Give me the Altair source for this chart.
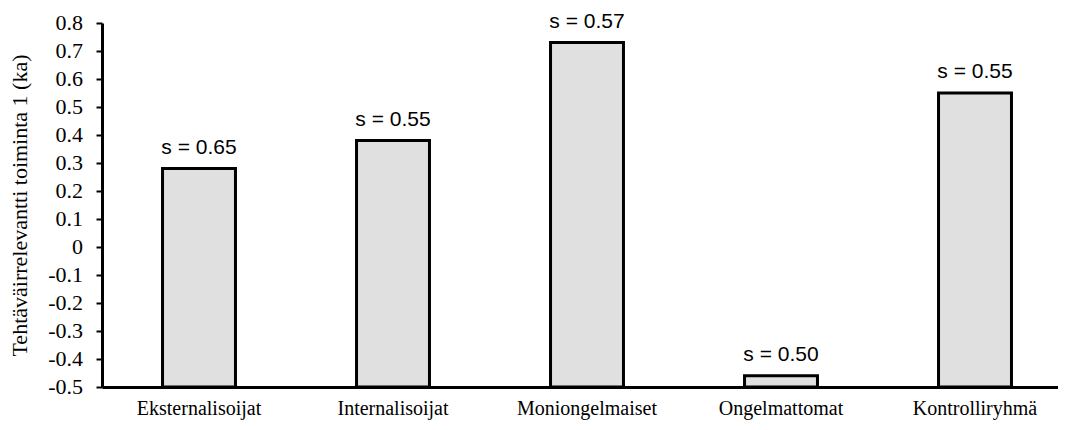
import altair as alt
import pandas as pd

categories = ["Eksternalisoijat", "Internalisoijat", "Moniongelmaiset", "Ongelmattomat", "Kontrolliryhmä"]
means = [0.28, 0.38, 0.73, -0.46, 0.55]
sd_labels = ["s = 0.65", "s = 0.55", "s = 0.57", "s = 0.50", "s = 0.55"]
y_ticks = [-0.5, -0.4, -0.3, -0.2, -0.1, 0.0, 0.1, 0.2, 0.3, 0.4, 0.5, 0.6, 0.7, 0.8]
y_tick_labels = ["-0.5", "-0.4", "-0.3", "-0.2", "-0.1", "0", "0.1", "0.2", "0.3", "0.4", "0.5", "0.6", "0.7", "0.8"]
base_value = -0.5

df = pd.DataFrame({"cat": categories, "mean": means, "sd": sd_labels, "base": [base_value] * len(categories)})
ticks_df = pd.DataFrame({"v": y_ticks, "lab": y_tick_labels})

x_scale = alt.Scale(range=[0, 970], paddingInner=0.624, paddingOuter=0.312)
y_scale = alt.Scale(domain=[-0.5, 0.8], nice=False, zero=False)

x_axis = alt.Axis(labelAngle=0, labelFont="Liberation Serif", labelFontSize=20,
                  labelColor="black", labelPadding=11, ticks=False,
                  labelOverlap=False,
                  domainColor="black", domainWidth=3)
y_axis = alt.Axis(values=y_ticks, grid=False, labels=False,
                  tickSize=6, tickColor="black", tickWidth=2,
                  domainColor="black", domainWidth=3,
                  titleFont="Liberation Serif", titleFontSize=22, titleFontWeight="normal",
                  titleColor="black", titleAngle=-90, titleX=-83, titleY=182,
                  titleAlign="center", titleBaseline="middle")
y_title = "Tehtäväirrelevantti toiminta 1 (ka)"

bars = alt.Chart(df).mark_bar(fill="#e0e0e0", stroke="black", strokeWidth=3).encode(
    x=alt.X("cat:N", sort=categories, title=None, scale=x_scale, axis=x_axis),
    y=alt.Y("mean:Q", scale=y_scale, title=y_title, axis=y_axis),
    y2="base:Q",
)

labels = alt.Chart(df).mark_text(font="Liberation Sans", fontSize=21, color="black",
                                 baseline="alphabetic", dy=-15).encode(
    x=alt.X("cat:N", sort=categories, title=None, scale=x_scale, axis=x_axis),
    y=alt.Y("mean:Q", scale=y_scale, title=y_title, axis=y_axis),
    text="sd:N",
)

tick_labels = alt.Chart(ticks_df).mark_text(font="Liberation Serif", fontSize=22, color="black",
                                            align="right", baseline="middle").encode(
    x=alt.value(-19),
    y=alt.Y("v:Q", scale=y_scale, title=y_title, axis=y_axis),
    text="lab:N",
)

chart = (bars + labels + tick_labels).properties(
    width=956, height=364,
    background="white",
    autosize=alt.AutoSizeParams(type="none"),
    padding={"left": 94, "top": 15, "right": 0, "bottom": 40},
).configure_view(strokeWidth=0)

chart.save("out.html", embed_options={"renderer": "svg", "actions": False})
